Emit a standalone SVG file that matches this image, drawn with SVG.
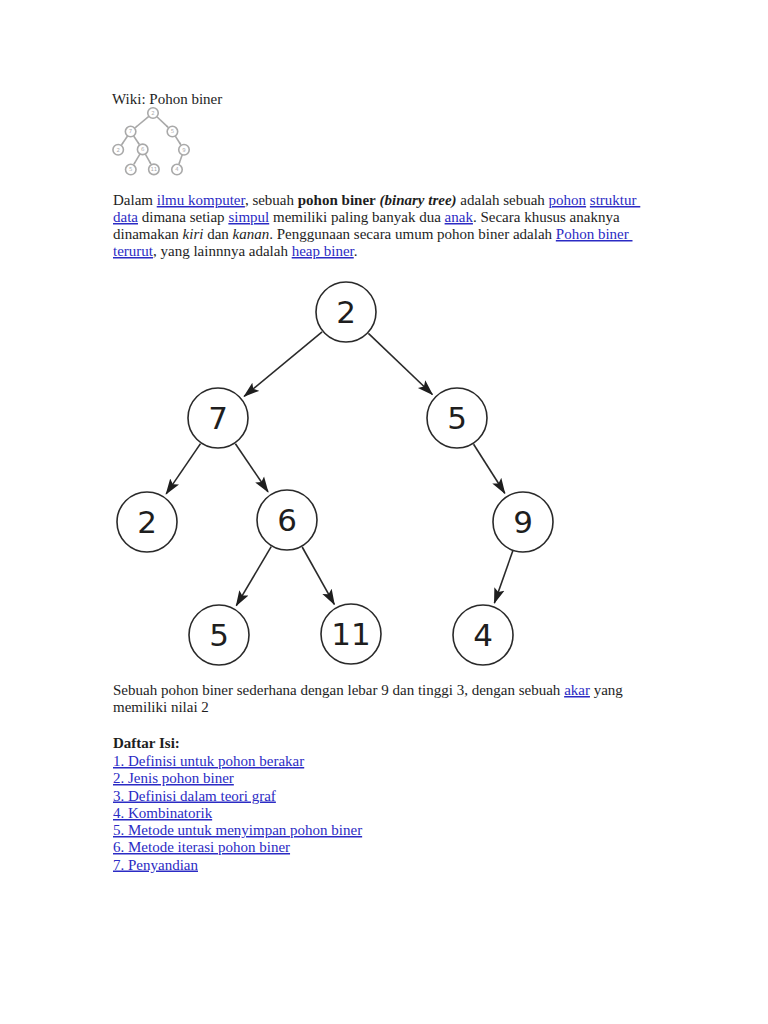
<svg xmlns="http://www.w3.org/2000/svg" xmlns:xlink="http://www.w3.org/1999/xlink" width="768" height="1024" viewBox="0 0 768 1024">
<defs>
<style>
.t{font-family:"Liberation Serif","Times New Roman",serif;font-size:15px;fill:#1e1e1e;}
.a{fill:#2b2bc4;text-decoration:underline;}
.b{font-weight:bold;}
.i{font-style:italic;}
.n circle{fill:#fff;stroke:#2a2a2a;stroke-width:1.6;vector-effect:non-scaling-stroke;}
.n text{font-family:"DejaVu Sans",sans-serif;font-size:31px;fill:#1e1e1e;text-anchor:middle;}
.e line{stroke:#2a2a2a;stroke-width:1.6;vector-effect:non-scaling-stroke;marker-end:url(#arr);}
</style>
<marker id="arr" markerUnits="userSpaceOnUse" markerWidth="16" markerHeight="12" viewBox="0 0 15 10" refX="14" refY="5" orient="auto">
<path d="M0,0 L15,5 L0,10 L3,5 z" fill="#1e1e1e"/>
</marker>
</defs>
<rect width="768" height="1024" fill="#fff"/>

<text class="t" x="112" y="104">Wiki: Pohon biner</text>

<g id="tree">
<g id="edges" class="e">
<line x1="322.1" y1="331.8" x2="244.2" y2="396.3"/>
<line x1="368.4" y1="333.4" x2="432.4" y2="394.5"/>
<line x1="200.5" y1="443.6" x2="166.2" y2="493.9"/>
<line x1="235.4" y1="443.7" x2="268" y2="491.8"/>
<line x1="271.2" y1="546.7" x2="236.3" y2="605.7"/>
<line x1="302.2" y1="547" x2="334.3" y2="604.4"/>
<line x1="473.6" y1="444.2" x2="504.8" y2="493.3"/>
<line x1="513" y1="550.3" x2="494.4" y2="603"/>
</g>
<g id="n2" class="n"><circle cx="346" cy="312" r="30"/><text x="346" y="323">2</text></g>
<g id="n7" class="n"><circle cx="218" cy="418" r="30"/><text x="218" y="429">7</text></g>
<g id="n5" class="n"><circle cx="457" cy="418" r="30"/><text x="457" y="429">5</text></g>
<g id="n2b" class="n"><circle cx="147" cy="522" r="30"/><text x="147" y="533">2</text></g>
<g id="n6" class="n"><circle cx="287" cy="520" r="30"/><text x="287" y="531">6</text></g>
<g id="n9" class="n"><circle cx="523" cy="522" r="30"/><text x="523" y="533">9</text></g>
<g id="n5b" class="n"><circle cx="219" cy="635" r="30"/><text x="219" y="646">5</text></g>
<g id="n11" class="n"><circle cx="351" cy="634" r="30"/><text x="351" y="645">11</text></g>
<g id="n4" class="n"><circle cx="483" cy="635" r="30"/><text x="483" y="646">4</text></g>
</g>

<use id="thumb" xlink:href="#tree" href="#tree" transform="translate(92.45,58.4) scale(0.175)" opacity="0.4"/>

<text class="t" x="113" y="205" style="white-space:pre">Dalam <tspan class="a">ilmu komputer</tspan>, sebuah <tspan class="b">pohon biner</tspan> <tspan class="b i">(binary tree)</tspan> adalah sebuah <tspan class="a">pohon</tspan> <tspan class="a">struktur </tspan></text>
<text class="t" x="113" y="222" style="white-space:pre"><tspan class="a">data</tspan> dimana setiap <tspan class="a">simpul</tspan> memiliki paling banyak dua <tspan class="a">anak</tspan>. Secara khusus anaknya</text>
<text class="t" x="113" y="239" style="white-space:pre">dinamakan <tspan class="i">kiri</tspan> dan <tspan class="i">kanan</tspan>. Penggunaan secara umum pohon biner adalah <tspan class="a">Pohon biner </tspan></text>
<text class="t" x="113" y="256" style="white-space:pre"><tspan class="a">terurut</tspan>, yang lainnnya adalah <tspan class="a">heap biner</tspan>.</text>

<text class="t" x="113" y="695" style="white-space:pre">Sebuah pohon biner sederhana dengan lebar 9 dan tinggi 3, dengan sebuah <tspan class="a">akar</tspan> yang</text>
<text class="t" x="113" y="712">memiliki nilai 2</text>

<text class="t b" x="113" y="748">Daftar Isi:</text>
<text class="t a" x="113" y="766">1. Definisi untuk pohon berakar</text>
<text class="t a" x="113" y="783">2. Jenis pohon biner</text>
<text class="t a" x="113" y="800.5">3. Definisi dalam teori graf</text>
<text class="t a" x="113" y="818">4. Kombinatorik</text>
<text class="t a" x="113" y="835">5. Metode untuk menyimpan pohon biner</text>
<text class="t a" x="113" y="852">6. Metode iterasi pohon biner</text>
<text class="t a" x="113" y="869.5">7. Penyandian</text>
</svg>
